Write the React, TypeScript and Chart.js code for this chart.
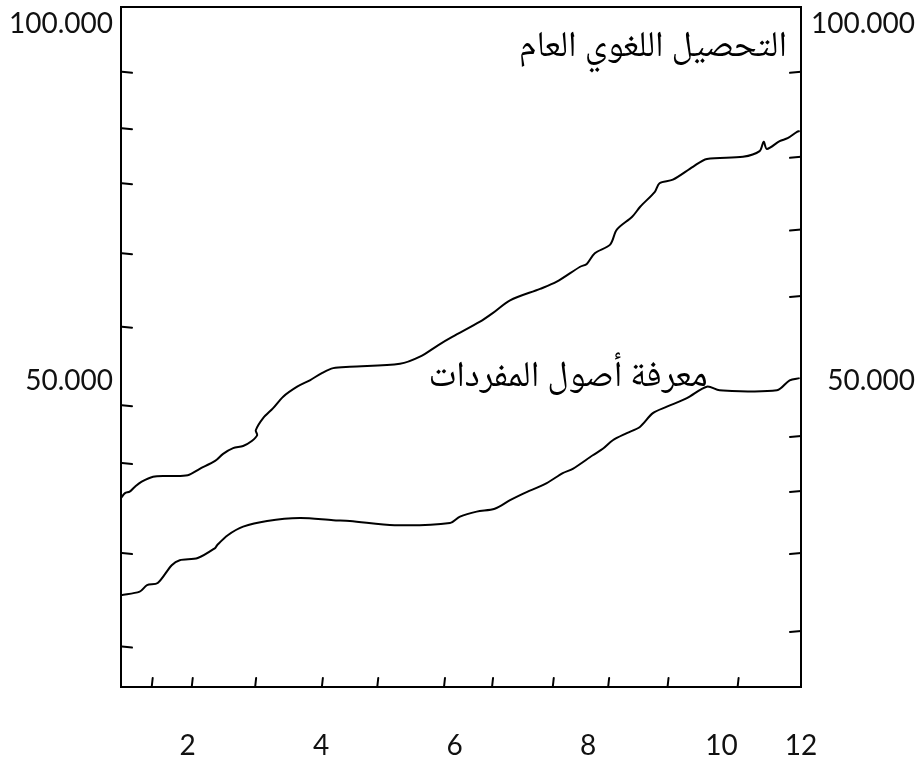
import React, { useEffect, useRef } from "react";
import { Chart, registerables } from "chart.js";
Chart.register(...registerables);

// ---- data ----
const generalX = [1.0, 1.06, 1.13, 1.21, 1.31, 1.48, 1.69, 2.0, 2.18, 2.41, 2.53, 2.68, 2.83, 2.96, 3.04, 3.02, 3.13, 3.28, 3.43, 3.64, 3.83, 4.01, 4.18, 4.43, 5.18, 5.48, 5.75, 5.97, 6.38, 6.57, 6.83, 7.28, 7.53, 7.88, 7.98, 8.1, 8.33, 8.43, 8.66, 8.78, 9.0, 9.07, 9.27, 9.57, 9.78, 10.32, 10.57, 10.63, 10.68, 10.87, 10.99, 11.13, 11.17];
const generalY = [33.6, 34.3, 34.5, 35.2, 35.9, 36.6, 36.7, 36.8, 37.7, 38.8, 39.8, 40.6, 40.9, 41.6, 42.4, 43.1, 44.8, 46.2, 47.8, 49.2, 50.1, 51.1, 51.8, 52.0, 52.4, 53.4, 55.0, 56.2, 58.3, 59.5, 61.3, 62.9, 63.9, 66.0, 66.4, 67.9, 69.1, 71.2, 73.0, 74.4, 76.5, 77.7, 78.2, 80.0, 81.1, 81.4, 82.2, 83.5, 82.5, 83.6, 84.0, 84.9, 85.0];
const rootsX = [1.0, 1.28, 1.39, 1.55, 1.76, 1.88, 2.15, 2.41, 2.44, 2.6, 2.83, 3.19, 3.68, 4.18, 4.43, 5.1, 5.93, 6.08, 6.33, 6.6, 6.83, 7.02, 7.38, 7.62, 7.77, 8.07, 8.22, 8.37, 8.58, 8.78, 8.97, 9.18, 9.48, 9.78, 9.97, 10.83, 11.02, 11.17];
const rootsY = [20.0, 20.5, 21.4, 21.7, 24.2, 24.9, 25.2, 26.6, 27.0, 28.4, 29.6, 30.4, 30.8, 30.5, 30.4, 29.8, 30.1, 31.0, 31.7, 32.1, 33.3, 34.2, 35.7, 37.1, 37.7, 39.6, 40.5, 41.7, 42.7, 43.6, 45.5, 46.4, 47.6, 49.2, 48.7, 48.7, 50.1, 50.4];
const seriesLabels = ["التحصيل اللغوي العام", "معرفة أصول المفردات"];

const xTickValues = [2, 4, 6, 8, 10, 11.19];
const xTickLabels = ["2", "4", "6", "8", "10", "12"];
const yTickValues = [50, 100];
const yTickLabels = ["50.000", "100.000"];

const leftMinorTicks = [93.3, 85.4, 77.7, 67.9, 57.6, 46.6, 38.5, 25.9, 12.8];
const rightMinorTicks = [93.3, 81.4, 71.2, 61.9, 42.3, 34.6, 25.9, 15.0];
const bottomMinorTicks = [1.46, 2.06, 3.01, 4.01, 4.84, 5.84, 6.56, 7.47, 8.3, 9.19, 10.24];

// ---- layout constants ----
const X_MIN = 1;
const X_MAX = 11.19;
const Y_MIN = 7.14;
const Y_MAX = 102.38;
const labelAnchors = [
  { x: 10.98, y: 96.1 },
  { x: 9.79, y: 50.0 },
];

const axisFont = { family: "Lato, 'Open Sans', sans-serif", size: 28 };
const arabicFont = "36px 'Noto Naskh Arabic', Amiri, 'Noto Serif', serif";

const decorPlugin = {
  id: "decor",
  afterDatasetsDraw(chart: any) {
    const { ctx, chartArea, scales } = chart;
    const xs = scales.x;
    const ys = scales.y;
    ctx.save();
    ctx.strokeStyle = "#000";
    ctx.lineWidth = 2;
    ctx.lineCap = "round";
    leftMinorTicks.forEach((v) => {
      const py = ys.getPixelForValue(v);
      ctx.beginPath();
      ctx.moveTo(chartArea.left + 1, py);
      ctx.lineTo(chartArea.left + 11, py + 1);
      ctx.stroke();
    });
    rightMinorTicks.forEach((v) => {
      const py = ys.getPixelForValue(v);
      ctx.beginPath();
      ctx.moveTo(chartArea.right, py);
      ctx.lineTo(chartArea.right - 11, py + 1);
      ctx.stroke();
    });
    bottomMinorTicks.forEach((v) => {
      const px = xs.getPixelForValue(v);
      ctx.beginPath();
      ctx.moveTo(px, chartArea.bottom);
      ctx.lineTo(px + 1, chartArea.bottom - 9);
      ctx.stroke();
    });
    ctx.fillStyle = "#000";
    ctx.font = arabicFont;
    ctx.textAlign = "right";
    ctx.textBaseline = "middle";
    ctx.direction = "rtl";
    seriesLabels.forEach((t, i) => {
      const a = labelAnchors[i];
      ctx.fillText(t, xs.getPixelForValue(a.x), ys.getPixelForValue(a.y));
    });
    ctx.restore();
  },
};

function toPoints(xa: number[], ya: number[]) {
  return xa.map((x, i) => ({ x, y: ya[i] }));
}

function zeroPad(s: any) {
  s.paddingTop = 0;
  s.paddingBottom = 0;
  s.paddingLeft = 0;
  s.paddingRight = 0;
}

export default function App() {
  const ref = useRef<HTMLCanvasElement | null>(null);
  useEffect(() => {
    if (!ref.current) return;
    const yAxisCommon = (pos: "left" | "right") => ({
      type: "linear" as const,
      position: pos,
      min: Y_MIN,
      max: Y_MAX,
      grid: { display: false, drawTicks: false },
      border: { display: true, color: "#000", width: 2 },
      afterBuildTicks: (s: any) => {
        s.ticks = yTickValues.map((v) => ({ value: v }));
      },
      afterFit: (s: any) => {
        s.width = pos === "left" ? 121 : 114;
        zeroPad(s);
      },
      ticks: {
        color: "#111",
        font: axisFont,
        padding: 8,
        crossAlign: pos === "left" ? ("near" as const) : ("far" as const),
        callback: (_v: any, i: number) => yTickLabels[i],
      },
    });
    const chart = new Chart(ref.current, {
      type: "line",
      data: {
        datasets: [
          {
            label: seriesLabels[0],
            data: toPoints(generalX, generalY),
            borderColor: "#000",
            borderWidth: 2,
            pointRadius: 0,
            tension: 0.3,
            yAxisID: "y",
          },
          {
            label: seriesLabels[1],
            data: toPoints(rootsX, rootsY),
            borderColor: "#000",
            borderWidth: 2,
            pointRadius: 0,
            tension: 0.3,
            yAxisID: "y",
          },
        ],
      },
      options: {
        animation: false,
        responsive: true,
        maintainAspectRatio: false,
        layout: { padding: { left: 0, right: 5, top: 0, bottom: 0 } },
        plugins: { legend: { display: false }, tooltip: { enabled: false } },
        scales: {
          x: {
            type: "linear",
            position: "bottom",
            min: X_MIN,
            max: X_MAX,
            grid: { display: false, drawTicks: false },
            border: { display: true, color: "#000", width: 2 },
            afterBuildTicks: (s: any) => {
              s.ticks = xTickValues.map((v) => ({ value: v }));
            },
            afterFit: (s: any) => {
              s.height = 71;
              zeroPad(s);
            },
            ticks: {
              color: "#111",
              font: axisFont,
              padding: 42,
              autoSkip: false,
              maxRotation: 0,
              callback: (_v: any, i: number) => xTickLabels[i],
            },
          },
          xTop: {
            type: "linear",
            position: "top",
            min: X_MIN,
            max: X_MAX,
            grid: { display: false, drawTicks: false },
            border: { display: true, color: "#000", width: 2 },
            ticks: { display: false },
            afterFit: (s: any) => {
              s.height = 7;
              zeroPad(s);
            },
          },
          y: yAxisCommon("left"),
          y2: yAxisCommon("right"),
        },
      },
      plugins: [decorPlugin],
    });
    return () => chart.destroy();
  }, []);
  return (
    <div style={{ position: "absolute", left: 0, top: 0, width: 920, height: 758, background: "#fff" }}>
      <canvas ref={ref} />
    </div>
  );
}
